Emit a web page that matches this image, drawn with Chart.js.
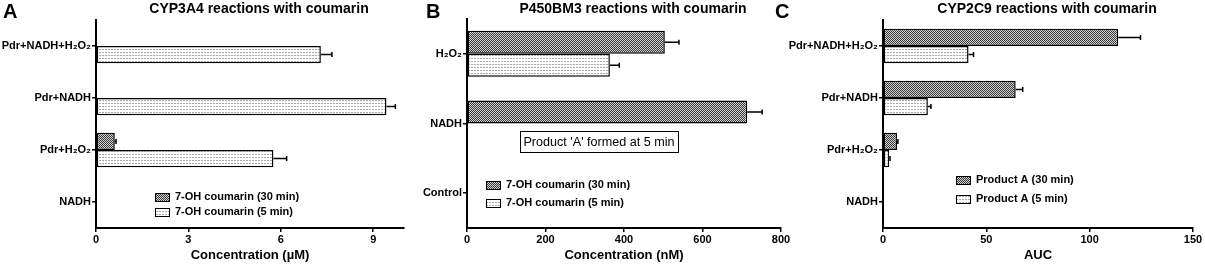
<!DOCTYPE html>
<html>
<head>
<meta charset="utf-8">
<script src="https://cdn.jsdelivr.net/npm/chart.js@4.4.0/dist/chart.umd.min.js"></script>
<style>
body { margin: 0; background: #fff; }
#wrap { position: relative; width: 1205px; height: 264px; overflow: hidden; }
canvas { position: absolute; top: 0; }
</style>
</head>
<body>
<div id="wrap">
  <canvas id="cA" width="405" height="264" style="left:0px"></canvas>
  <canvas id="cB" width="395" height="264" style="left:405px"></canvas>
  <canvas id="cC" width="435" height="264" style="left:770px"></canvas>
</div>
<script>
// panel A - CYP3A4
const labelsA = ['Pdr+NADH+H\u2082O\u2082', 'Pdr+NADH', 'Pdr+H\u2082O\u2082', 'NADH'];
const a30 = [0, 0, 0.61, 0];
const a30err = [0, 0, 0.04, 0];
const a5 = [7.3, 9.43, 5.76, 0];
const a5err = [0.36, 0.29, 0.43, 0];

// panel B - P450BM3
const labelsB = ['H\u2082O\u2082', 'NADH', 'Control'];
const b30 = [504, 714, 0];
const b30err = [36, 38, 0];
const b5 = [364, 0, 0];
const b5err = [24, 0, 0];

// panel C - CYP2C9
const labelsC = ['Pdr+NADH+H\u2082O\u2082', 'Pdr+NADH', 'Pdr+H\u2082O\u2082', 'NADH'];
const c30 = [113.8, 64.2, 6.8, 0];
const c30err = [10.8, 3.4, 0.4, 0];
const c5 = [41.4, 21.7, 3.0, 0];
const c5err = [2.4, 1.5, 0.4, 0];

const FONT = "'Liberation Sans', Arial, Helvetica, sans-serif";

function makePattern(kind) {
  const c = document.createElement('canvas');
  const g = c.getContext('2d');
  if (kind == 'dark') {
    c.width = 2; c.height = 2;
    g.fillStyle = '#d0d0d0'; g.fillRect(0, 0, 2, 2);
    g.fillStyle = '#3a3a3a'; g.fillRect(0, 0, 1, 1); g.fillRect(1, 1, 1, 1);
  } else {
    c.width = 3; c.height = 3;
    g.fillStyle = '#ffffff'; g.fillRect(0, 0, 3, 3);
    g.fillStyle = '#a8a8a8'; g.fillRect(0, 1, 2, 1);
  }
  return g.createPattern(c, 'repeat');
}
const darkFill = makePattern('dark');
const lightFill = makePattern('light');

// error bars, panel letter, title, legend and note
const decor = {
  id: 'decor',
  afterDraw(chart, args, o) {
    const ctx = chart.ctx;
    const xs = chart.scales.x;
    const area = chart.chartArea;
    ctx.save();

    chart.data.datasets.forEach((ds, i) => {
      const meta = chart.getDatasetMeta(i);
      ds.errors.forEach((e, j) => {
        if (!e) return;
        const y = meta.data[j].y;
        const x0 = xs.getPixelForValue(ds.data[j]);
        const x1 = xs.getPixelForValue(ds.data[j] + e);
        ctx.strokeStyle = '#000';
        ctx.lineWidth = 1.5;
        ctx.beginPath();
        ctx.moveTo(x0, y); ctx.lineTo(x1, y);
        ctx.moveTo(x1, y - 2.5); ctx.lineTo(x1, y + 2.5);
        ctx.stroke();
      });
    });

    ctx.fillStyle = '#000';
    ctx.textBaseline = 'middle';
    ctx.font = 'bold 20px ' + FONT;
    ctx.textAlign = 'left';
    ctx.fillText(o.letter, o.letterX, 12);

    ctx.font = 'bold 14px ' + FONT;
    ctx.textAlign = 'center';
    ctx.fillText(o.title, (area.left + area.right) / 2 + 9, 9);

    ctx.font = 'bold 11px ' + FONT;
    ctx.textAlign = 'left';
    const fills = [darkFill, lightFill];
    chart.data.datasets.forEach((ds, i) => {
      const ly = o.legY + i * o.legGap;
      ctx.fillStyle = fills[i];
      ctx.fillRect(o.legX, ly - 4, 14, 8);
      ctx.strokeStyle = '#000';
      ctx.lineWidth = 1;
      ctx.strokeRect(o.legX + 0.5, ly - 3.5, 14, 8);
      ctx.fillStyle = '#000';
      ctx.fillText(ds.label, o.legX + 20, ly);
    });

    if (o.note) {
      const n = o.note;
      ctx.strokeStyle = '#000';
      ctx.lineWidth = 1;
      ctx.strokeRect(n.x + 0.5, n.y + 0.5, n.w, n.h);
      ctx.font = '12.6px ' + FONT;
      ctx.textAlign = 'center';
      ctx.fillText(n.text, n.x + n.w / 2, n.y + n.h / 2 + 1);
    }
    ctx.restore();
  }
};

function buildChart(id, p) {
  const tickFont = { family: FONT, size: 11, weight: 'bold' };
  return new Chart(document.getElementById(id), {
    type: 'bar',
    data: {
      labels: p.labels,
      datasets: [
        { label: p.names[0], data: p.v30, errors: p.e30, backgroundColor: darkFill,
          borderColor: '#000', borderWidth: 1.5, borderSkipped: false,
          categoryPercentage: 0.66, barPercentage: 1 },
        { label: p.names[1], data: p.v5, errors: p.e5, backgroundColor: lightFill,
          borderColor: '#000', borderWidth: 1.5, borderSkipped: false,
          categoryPercentage: 0.66, barPercentage: 1 }
      ]
    },
    options: {
      indexAxis: 'y',
      responsive: false,
      animation: false,
      layout: { padding: p.pad },
      plugins: {
        legend: { display: false },
        tooltip: { enabled: false },
        decor: p.decor
      },
      scales: {
        x: {
          min: 0, max: p.max,
          ticks: { stepSize: p.step, color: '#000', font: tickFont, padding: 1, maxRotation: 0 },
          afterBuildTicks: s => { s.ticks = s.ticks.filter(t => t.value % p.step === 0); },
          afterFit: s => { s.height = 36; },
          grid: { drawOnChartArea: false, color: '#000', lineWidth: 1.5, tickLength: 4 },
          border: { color: '#000', width: 2 },
          title: { display: true, text: p.xTitle, color: '#000',
                   font: { family: FONT, size: 13, weight: 'bold' }, padding: { top: 0, bottom: 1 } }
        },
        y: {
          ticks: { color: '#000', font: tickFont, padding: 1 },
          grid: { drawOnChartArea: false, offset: false, color: '#000', lineWidth: 1.5, tickLength: 4 },
          border: { color: '#000', width: 2 },
          afterFit: s => { s.width = p.yWidth; }
        }
      }
    },
    plugins: [decor]
  });
}

buildChart('cA', {
  labels: labelsA, v30: a30, e30: a30err, v5: a5, e5: a5err,
  names: ['7-OH coumarin (30 min)', '7-OH coumarin (5 min)'],
  max: 10, step: 3, xTitle: 'Concentration (\u00b5M)',
  yWidth: 96, pad: { top: 20, right: 1, left: 0, bottom: 0 },
  decor: { letter: 'A', letterX: 3, title: 'CYP3A4 reactions with coumarin',
           legX: 155, legY: 197, legGap: 15 }
});

buildChart('cB', {
  labels: labelsB, v30: b30, e30: b30err, v5: b5, e5: b5err,
  names: ['7-OH coumarin (30 min)', '7-OH coumarin (5 min)'],
  max: 800, step: 200, xTitle: 'Concentration (nM)',
  yWidth: 62, pad: { top: 19, right: 19, left: 0, bottom: 0 },
  decor: { letter: 'B', letterX: 21, title: 'P450BM3 reactions with coumarin',
           legX: 81, legY: 185, legGap: 18,
           note: { x: 115, y: 131, w: 158, h: 21, text: "Product 'A' formed at 5 min" } }
});

buildChart('cC', {
  labels: labelsC, v30: c30, e30: c30err, v5: c5, e5: c5err,
  names: ['Product A (30 min)', 'Product A (5 min)'],
  max: 150, step: 50, xTitle: 'AUC',
  yWidth: 113, pad: { top: 20, right: 12, left: 0, bottom: 0 },
  decor: { letter: 'C', letterX: 5, title: 'CYP2C9 reactions with coumarin',
           legX: 186, legY: 180, legGap: 19 }
});
</script>
</body>
</html>
